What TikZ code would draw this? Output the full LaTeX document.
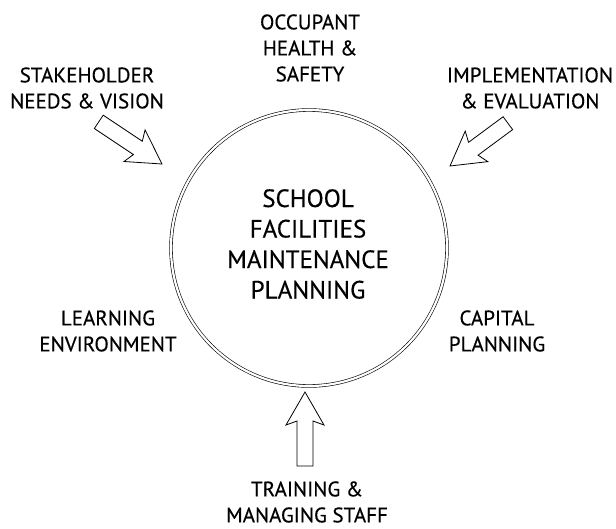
\documentclass[tikz,border=0pt]{standalone}
\usepackage{fontspec}
\setmainfont{PT Sans}[UprightFeatures={FakeBold=0.4}]
\begin{document}
\begin{tikzpicture}[x=1pt,y=-1pt,
  lbl/.style={align=center, inner sep=0pt, font=\fontsize{21}{26}\selectfont},
  ctr/.style={align=center, inner sep=0pt, font=\fontsize{25}{30.5}\selectfont},
  ring/.style={draw, circle, double, double distance=2.2pt, line width=0.6pt, minimum size=276pt, inner sep=0pt},
  arrowline/.style={draw, line width=0.8pt, line join=miter, fill=white},
  pics/barrow/.style={code={
    \path[arrowline] (0,0) -- (-33,19) -- (-29,8) -- (-#1,8) -- (-#1,-8) -- (-29,-8) -- (-33,-19) -- cycle;
  }}]
\useasboundingbox (0,0) rectangle (616,528);
\node[ring] (hub) at (309,248) {};
\node[ctr] (title) at (308,244) {SCHOOL\\FACILITIES\\MAINTENANCE\\PLANNING};
\node[lbl] (occ) at (310,48) {OCCUPANT\\HEALTH \&\\SAFETY};
\node[lbl] (stake) at (87,88) {STAKEHOLDER\\NEEDS \& VISION};
\node[lbl] (impl) at (530,88) {IMPLEMENTATION\\\& EVALUATION};
\node[lbl] (learn) at (108,331) {LEARNING\\ENVIRONMENT};
\node[lbl] (cap) at (497,331) {CAPITAL\\PLANNING};
\node[lbl] (train) at (307,502) {TRAINING \&\\MANAGING STAFF};
\pic (a1) [rotate=-33.7] at (162,164) {barrow=76};
\pic (a2) [rotate=-143.5] at (450,166) {barrow=72};
\pic (a3) [rotate=90] at (305,392) {barrow=74};
\end{tikzpicture}
\end{document}
